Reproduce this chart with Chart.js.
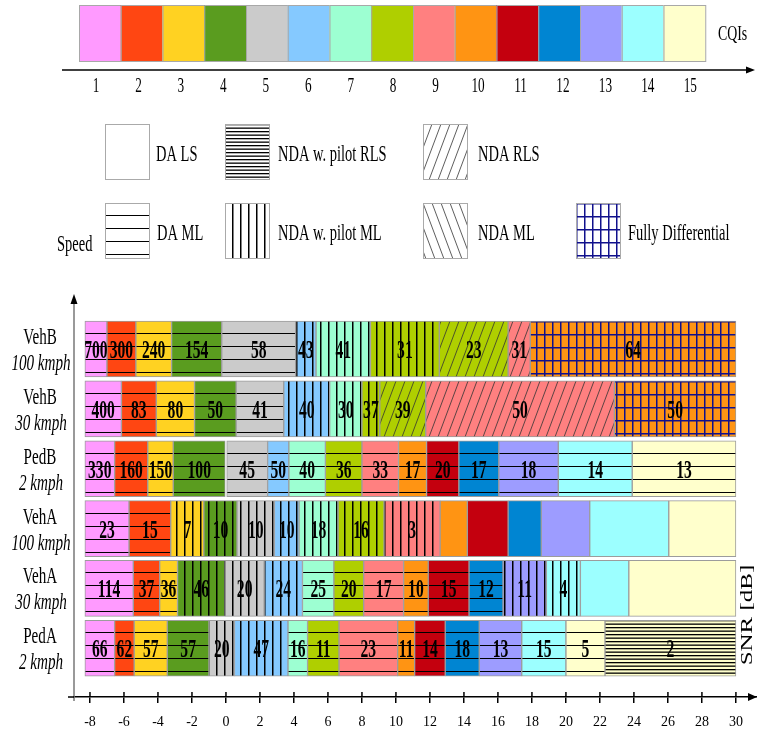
<!DOCTYPE html>
<html>
<head>
<meta charset="utf-8">
<script src="https://cdn.jsdelivr.net/npm/chart.js@4.4.1/dist/chart.umd.min.js"></script>
<style>
  html, body { margin: 0; padding: 0; background: #fff; }
</style>
</head>
<body>
<canvas id="chart" width="757" height="732"></canvas>
<script>
// Row names (first line upright, second line italic)
const rowNames = ['VehB', 'VehB', 'PedB', 'VehA', 'VehA', 'PedA'];
const rowSpeeds = ['100 kmph', '30 kmph', '2 kmph', '100 kmph', '30 kmph', '2 kmph'];

// SNR axis ticks [dB]
const xTicks = [-8, -6, -4, -2, 0, 2, 4, 6, 8, 10, 12, 14, 16, 18, 20, 22, 24, 26, 28, 30];

// CQI key
const cqiLabels = [1, 2, 3, 4, 5, 6, 7, 8, 9, 10, 11, 12, 13, 14, 15];
const cqiColors = ['#FF9AFF', '#FF4612', '#FFD222', '#5A9C1F', '#CBCBCB', '#85C9FF', '#9DFFD2',
                   '#AFCF00', '#FF8080', '#FF9413', '#C4000E', '#0085D2', '#9D9CFF', '#9CFFFF', '#FFFFCC'];

// detection methods (hatch styles)
const methodKeys = ['DALS', 'PRLS', 'NRLS', 'DAML', 'PML', 'NML', 'FD'];
const methodNames = ['DA LS', 'NDA w. pilot RLS', 'NDA RLS', 'DA ML', 'NDA w. pilot ML', 'NDA ML', 'Fully Differential'];

// VehB 100 kmph
const vehB100Edges = [-8.3, -7.0, -5.3, -3.2, -0.25, 4.1, 5.3, 8.5, 12.55, 16.6, 17.9, 30];
const vehB100Cqi = [1, 2, 3, 4, 5, 6, 7, 8, 8, 9, 10];
const vehB100Method = ['DAML', 'DAML', 'DAML', 'DAML', 'DAML', 'PML', 'PML', 'PML', 'NRLS', 'NRLS', 'FD'];
const vehB100Values = ['700', '300', '240', '154', '58', '43', '41', '31', '23', '31', '64'];

// VehB 30 kmph
const vehB30Edges = [-8.3, -6.15, -4.1, -1.85, 0.6, 3.4, 6.1, 8.0, 9.05, 11.75, 22.85, 30];
const vehB30Cqi = [1, 2, 3, 4, 5, 6, 7, 8, 8, 9, 10];
const vehB30Method = ['DAML', 'DAML', 'DAML', 'DAML', 'DAML', 'PML', 'PML', 'PML', 'NRLS', 'NRLS', 'FD'];
const vehB30Values = ['400', '83', '80', '50', '41', '40', '30', '37', '39', '50', '50'];

// PedB 2 kmph
const pedB2Edges = [-8.3, -6.55, -4.6, -3.1, 0.0, 2.45, 3.7, 5.85, 8.0, 10.15, 11.8, 13.7, 16.05, 19.55, 23.9, 30];
const pedB2Cqi = [1, 2, 3, 4, 5, 6, 7, 8, 9, 10, 11, 12, 13, 14, 15];
const pedB2Method = ['DAML', 'DAML', 'DAML', 'DAML', 'DAML', 'DAML', 'DAML', 'DAML', 'DAML', 'DAML', 'DAML', 'DAML', 'DAML', 'DAML', 'DAML'];
const pedB2Values = ['330', '160', '150', '100', '45', '50', '40', '36', '33', '17', '20', '17', '18', '14', '13'];

// VehA 100 kmph
const vehA100Edges = [-8.3, -5.7, -3.25, -1.3, 0.65, 2.85, 4.3, 6.6, 9.3, 12.6, 14.2, 16.6, 18.55, 21.4, 26.05, 30];
const vehA100Cqi = [1, 2, 3, 4, 5, 6, 7, 8, 9, 10, 11, 12, 13, 14, 15];
const vehA100Method = ['DAML', 'DAML', 'PML', 'PML', 'PML', 'PML', 'PML', 'PML', 'PML', 'DALS', 'DALS', 'DALS', 'DALS', 'DALS', 'DALS'];
const vehA100Values = ['23', '15', '7', '10', '10', '10', '18', '16', '3', '', '', '', '', '', ''];

// VehA 30 kmph
const vehA30Edges = [-8.3, -5.45, -3.9, -2.85, -0.05, 2.25, 4.5, 6.35, 8.1, 10.45, 11.9, 14.3, 16.3, 18.85, 20.85, 23.7, 30];
const vehA30Cqi = [1, 2, 3, 4, 5, 6, 7, 8, 9, 10, 11, 12, 13, 14, 14, 15];
const vehA30Method = ['DAML', 'DAML', 'DAML', 'PML', 'PML', 'PML', 'DAML', 'DAML', 'DAML', 'DAML', 'DAML', 'DAML', 'PML', 'PML', 'DALS', 'DALS'];
const vehA30Values = ['114', '37', '36', '46', '20', '24', '25', '20', '17', '10', '15', '12', '11', '4', '', ''];

// PedA 2 kmph
const pedA2Edges = [-8.3, -6.55, -5.4, -3.45, -1.0, 0.5, 3.65, 4.8, 6.65, 10.1, 11.1, 12.9, 14.9, 17.4, 20.0, 22.3, 30];
const pedA2Cqi = [1, 2, 3, 4, 5, 6, 7, 8, 9, 10, 11, 12, 13, 14, 15, 15];
const pedA2Method = ['DAML', 'DAML', 'DAML', 'DAML', 'PML', 'PML', 'DAML', 'DAML', 'DAML', 'DAML', 'DAML', 'DAML', 'DAML', 'DAML', 'DAML', 'PRLS'];
const pedA2Values = ['66', '62', '57', '57', '20', '47', '16', '11', '23', '11', '14', '18', '13', '15', '5', '2'];

const rows = [
    { edges: vehB100Edges, cqi: vehB100Cqi, method: vehB100Method, values: vehB100Values },
    { edges: vehB30Edges, cqi: vehB30Cqi, method: vehB30Method, values: vehB30Values },
    { edges: pedB2Edges, cqi: pedB2Cqi, method: pedB2Method, values: pedB2Values },
    { edges: vehA100Edges, cqi: vehA100Cqi, method: vehA100Method, values: vehA100Values },
    { edges: vehA30Edges, cqi: vehA30Cqi, method: vehA30Method, values: vehA30Values },
    { edges: pedA2Edges, cqi: pedA2Cqi, method: pedA2Method, values: pedA2Values }
];

const canvas = document.getElementById('chart');
const mainCtx = canvas.getContext('2d');
const BAR = 56;          // bar thickness in px
const SQUEEZE = 0.63;    // the original lettering is narrow, squeeze it horizontally
const SERIF = '"Liberation Serif", "Times New Roman", serif';

// Build a fill (plain colour or hatch pattern) for one colour + method
const patternCache = {};
function hatch(color, method, top) {
    if (method === 'DALS') return color;
    const key = color + method + top;
    if (patternCache[key]) return patternCache[key];

    let w = 8, h = 13;
    if (method === 'PRLS') { h = 7; }
    if (method === 'NRLS' || method === 'NML') { w = 9; h = 24; }
    const tile = document.createElement('canvas');
    tile.width = w;
    tile.height = h;
    const t = tile.getContext('2d');
    t.fillStyle = color;
    t.fillRect(0, 0, w, h);
    t.fillStyle = '#000';
    if (method === 'DAML') t.fillRect(0, 12, w, 1.7);
    if (method === 'PRLS') { t.fillRect(0, 0, w, 1.3); t.fillRect(0, 3.5, w, 1.3); }
    if (method === 'PML') t.fillRect(0, 0, 1.5, h);
    if (method === 'FD') {
        t.fillStyle = '#10108C';
        t.fillRect(0, 0, 1.5, h);
        t.fillRect(0, 0, w, 1.5);
    }
    if (method === 'NRLS' || method === 'NML') {
        t.strokeStyle = '#333';
        t.lineWidth = 0.8;
        [-w, 0, w].forEach(dx => {
            t.beginPath();
            if (method === 'NRLS') { t.moveTo(dx, h); t.lineTo(dx + w, 0); }
            else { t.moveTo(dx, 0); t.lineTo(dx + w, h); }
            t.stroke();
        });
    }
    const p = mainCtx.createPattern(tile, 'repeat');
    p.setTransform(new DOMMatrix().translate(0, top));
    patternCache[key] = p;
    return p;
}

// Scriptable background for the bar segments
function segmentFill(c, r) {
    if (c.type !== 'data') return '#fff';
    const row = rows[r];
    const i = c.dataIndex;
    const top = Math.round(c.chart.scales.y.getPixelForValue(r) - BAR / 2);
    return hatch(cqiColors[row.cqi[i] - 1], row.method[i], top);
}

// Narrow text helper
function squeezed(ctx, text, x, y, font, align, sx) {
    ctx.save();
    ctx.translate(x, y);
    ctx.scale(sx || SQUEEZE, 1);
    ctx.font = font;
    ctx.textAlign = align || 'center';
    ctx.textBaseline = 'alphabetic';
    ctx.fillStyle = '#000';
    ctx.fillText(text, 0, 0);
    ctx.restore();
}

// Values written on each segment
const segmentLabels = {
    id: 'segmentLabels',
    afterDatasetsDraw(chart) {
        const ctx = chart.ctx;
        rows.forEach((row, r) => {
            chart.getDatasetMeta(r).data.forEach((el, i) => {
                const txt = row.values[i];
                if (!txt) return;
                const p = el.getProps(['x', 'base', 'y'], true);
                squeezed(ctx, txt, (p.x + p.base) / 2, p.y + 9, 'bold 26px ' + SERIF, 'center', 0.6);
            });
        });
    }
};

// Everything around the bars: CQI key, method legend, row names, axis arrows
const figureDecor = {
    id: 'figureDecor',
    afterDraw(chart) {
        const ctx = chart.ctx;
        const area = chart.chartArea;
        const xs = chart.scales.x;
        const ys = chart.scales.y;
        ctx.save();

        // CQI colour key
        const keyLeft = 79, keyW = 41.75;
        cqiColors.forEach((col, i) => {
            ctx.fillStyle = col;
            ctx.fillRect(keyLeft + i * keyW, 5, keyW, 56);
            ctx.strokeStyle = '#A8A8A8';
            ctx.lineWidth = 1;
            ctx.strokeRect(keyLeft + i * keyW + 0.5, 5.5, keyW, 56);
        });
        squeezed(ctx, 'CQIs', 718, 40, '22px ' + SERIF, 'left');
        ctx.strokeStyle = '#000';
        ctx.lineWidth = 1.5;
        ctx.beginPath();
        ctx.moveTo(62, 70);
        ctx.lineTo(748, 70);
        ctx.stroke();
        ctx.fillStyle = '#000';
        ctx.beginPath();
        ctx.moveTo(746, 66.5);
        ctx.lineTo(755, 70);
        ctx.lineTo(746, 73.5);
        ctx.closePath();
        ctx.fill();
        cqiLabels.forEach((n, i) => {
            squeezed(ctx, String(n), 96 + i * 42.45, 92, '21px ' + SERIF);
        });

        // detection method legend
        const boxX = [105, 225, 423, 105, 225, 423, 576];
        const boxY = [124, 124, 124, 203, 203, 203, 203];
        const textX = [156, 278, 478, 157, 278, 478, 628];
        methodKeys.forEach((m, i) => {
            ctx.fillStyle = hatch('#FFFFFF', m, boxY[i]);
            ctx.fillRect(boxX[i], boxY[i], 44, 55);
            ctx.strokeStyle = '#AAAAAA';
            ctx.lineWidth = 1;
            ctx.strokeRect(boxX[i] + 0.5, boxY[i] + 0.5, 44, 55);
            squeezed(ctx, methodNames[i], textX[i], boxY[i] + 37, '23px ' + SERIF, 'left');
        });
        squeezed(ctx, 'Speed', 57, 251, '23px ' + SERIF, 'left');

        // row names
        rowNames.forEach((name, r) => {
            const yc = ys.getPixelForValue(r);
            squeezed(ctx, name, 40, yc - 5, '24px ' + SERIF);
            squeezed(ctx, rowSpeeds[r], 41, yc + 21, 'italic 24px ' + SERIF);
        });

        // vertical axis with arrow
        ctx.strokeStyle = '#777';
        ctx.lineWidth = 1.5;
        ctx.beginPath();
        ctx.moveTo(area.left, area.bottom + 4);
        ctx.lineTo(area.left, 302);
        ctx.stroke();
        ctx.fillStyle = '#000';
        ctx.beginPath();
        ctx.moveTo(area.left - 3.5, 304);
        ctx.lineTo(area.left, 294);
        ctx.lineTo(area.left + 3.5, 304);
        ctx.closePath();
        ctx.fill();

        // horizontal axis: left stub, upper half of the ticks, arrow
        ctx.strokeStyle = '#000';
        ctx.lineWidth = 1.5;
        ctx.beginPath();
        ctx.moveTo(68, area.bottom);
        ctx.lineTo(area.left, area.bottom);
        xs.ticks.forEach(t => {
            const px = xs.getPixelForValue(t.value);
            ctx.moveTo(px, area.bottom - 5);
            ctx.lineTo(px, area.bottom);
        });
        ctx.stroke();
        ctx.beginPath();
        ctx.moveTo(area.right - 9, area.bottom - 4);
        ctx.lineTo(area.right, area.bottom);
        ctx.lineTo(area.right - 9, area.bottom + 4);
        ctx.closePath();
        ctx.fill();

        // axis title, rotated
        ctx.save();
        ctx.translate(748, 615);
        ctx.scale(SQUEEZE, 1);
        ctx.rotate(-Math.PI / 2);
        ctx.font = '25px ' + SERIF;
        ctx.textAlign = 'center';
        ctx.textBaseline = 'middle';
        ctx.fillStyle = '#000';
        ctx.fillText('SNR [dB]', 0, 0);
        ctx.restore();

        ctx.restore();
    }
};

const datasets = rows.map((row, r) => ({
    label: rowNames[r] + ' ' + rowSpeeds[r],
    data: row.cqi.map((c, i) => ({ x: [row.edges[i], row.edges[i + 1]], y: r })),
    backgroundColor: (c) => segmentFill(c, r),
    borderColor: '#9C9C9C',
    borderWidth: 1,
    borderSkipped: false,
    barThickness: BAR,
    grouped: false
}));

new Chart(canvas, {
    type: 'bar',
    data: { datasets: datasets },
    options: {
        indexAxis: 'y',
        responsive: false,
        animation: false,
        events: [],
        layout: { padding: { top: 295, left: 74, right: 0, bottom: 0 } },
        plugins: {
            legend: { display: false },
            tooltip: { enabled: false }
        },
        scales: {
            x: {
                type: 'linear',
                min: -8.94,
                max: 31.24,
                afterBuildTicks: (scale) => { scale.ticks = xTicks.map(v => ({ value: v })); },
                afterFit: (scale) => { scale.height = 35; },
                grid: { drawOnChartArea: false, drawTicks: true, tickLength: 6, color: '#000', lineWidth: 1.5 },
                border: { display: true, color: '#000', width: 1.5 },
                ticks: {
                    color: '#000',
                    font: { family: SERIF, size: 14 },
                    padding: 11,
                    maxRotation: 0,
                    autoSkip: false
                }
            },
            y: {
                type: 'linear',
                reverse: true,
                offset: false,
                min: -0.902,
                max: 5.814,
                display: false
            }
        }
    },
    plugins: [segmentLabels, figureDecor]
});
</script>
</body>
</html>
